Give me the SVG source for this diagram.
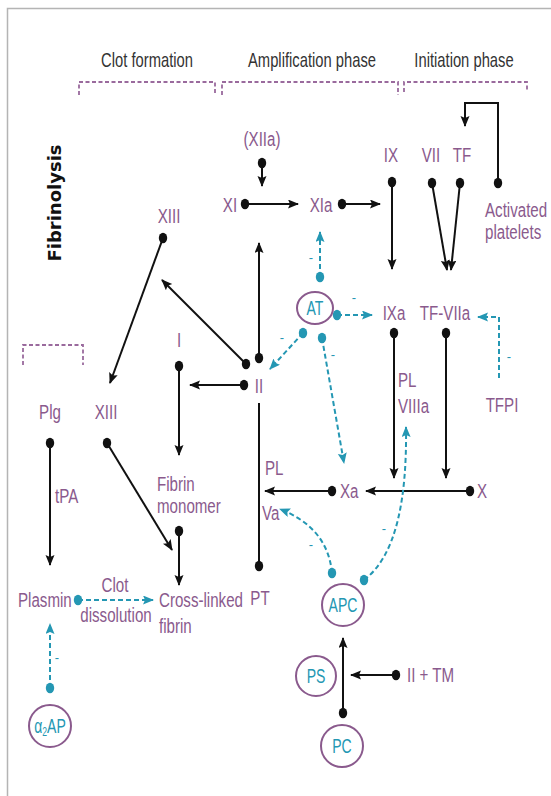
<svg xmlns="http://www.w3.org/2000/svg" width="551" height="796" viewBox="0 0 551 796">
<style>
.bg{fill:#ffffff}
.frame{fill:none;stroke:#b4b4b4;stroke-width:1.5}
.hdr{font-family:"Liberation Sans",Arial,sans-serif;font-size:20.5px;fill:#333333;text-anchor:middle}
.lbl{font-family:"Liberation Sans",Arial,sans-serif;font-size:21px;fill:#8a5a8d}
.mid{text-anchor:middle}
.cy{font-family:"Liberation Sans",Arial,sans-serif;font-size:19.5px;fill:#2497b3;text-anchor:middle}
.minus{font-family:"Liberation Sans",Arial,sans-serif;font-size:13px;fill:#2497b3;text-anchor:middle}
.brk{fill:none;stroke:#9a6a9d;stroke-width:1.8;stroke-dasharray:4 2.5}
.ln{fill:none;stroke:#111111;stroke-width:2;marker-start:url(#dot);marker-end:url(#arr)}
.lnd{fill:none;stroke:#111111;stroke-width:2;marker-start:url(#dot)}
.ca{fill:none;stroke:#2497b3;stroke-width:2;stroke-dasharray:5 3;marker-start:url(#cdot);marker-end:url(#carr)}
.ring{fill:none;stroke:#8a5a8d;stroke-width:2}
.fib{font-family:"DejaVu Sans",Verdana,sans-serif;font-size:18px;font-weight:bold;fill:#111111;text-anchor:middle}
</style>
<defs>
<marker id="arr" markerUnits="userSpaceOnUse" markerWidth="12" markerHeight="10" refX="10" refY="4.5" orient="auto"><path d="M0,0 L11,4.5 L0,9 L2,4.5 z" fill="#111111"/></marker>
<marker id="carr" markerUnits="userSpaceOnUse" markerWidth="12" markerHeight="10" refX="10" refY="4.5" orient="auto"><path d="M0,0 L11,4.5 L0,9 L2,4.5 z" fill="#2497b3"/></marker>
<marker id="dot" markerUnits="userSpaceOnUse" markerWidth="12" markerHeight="14" refX="6" refY="7"><ellipse cx="6" cy="7" rx="4.2" ry="5.2" fill="#111111"/></marker>
<marker id="cdot" markerUnits="userSpaceOnUse" markerWidth="12" markerHeight="14" refX="6" refY="7"><ellipse cx="6" cy="7" rx="4.2" ry="5.2" fill="#2497b3"/></marker>
</defs>
<rect class="bg" x="0" y="0" width="551" height="796"/>
<polyline class="frame" points="7.5,796 7.5,8.5 551,8.5"/>

<g id="headers">
<text class="hdr" transform="translate(147,67) scale(0.72,1)">Clot formation</text>
<text class="hdr" transform="translate(312,67) scale(0.72,1)">Amplification phase</text>
<text class="hdr" transform="translate(464,67) scale(0.72,1)">Initiation phase</text>
<polyline class="brk" points="79,95 79,82 215,82 215,95"/>
<polyline class="brk" points="222,95 222,82 398,82 398,95"/>
<polyline class="brk" points="404,92 404,82 527,82 527,92"/>
<polyline class="brk" points="23,365 23,345 83,345 83,365"/>
<text class="fib" transform="translate(61,203) rotate(-90)">Fibrinolysis</text>
</g>

<g id="connectors">
<line class="ln" x1="262" y1="163" x2="262" y2="186"/>
<line class="ln" x1="245" y1="204" x2="298" y2="204"/>
<line class="ln" x1="342" y1="204" x2="380" y2="204"/>
<line class="ln" x1="392" y1="182" x2="392" y2="269"/>
<line class="ln" x1="432" y1="183" x2="447" y2="270"/>
<line class="ln" x1="460" y1="183" x2="451" y2="270"/>
<polyline class="ln" points="498,183 498,103 465,103 465,126"/>
<line class="ln" x1="394" y1="333" x2="394" y2="478"/>
<line class="ln" x1="446" y1="333" x2="446" y2="478"/>
<line class="ln" x1="470" y1="491" x2="366" y2="491"/>
<line class="ln" x1="332" y1="491" x2="265" y2="491"/>
<line class="ln" x1="259" y1="358" x2="259" y2="243"/>
<line class="ln" x1="246" y1="364" x2="162" y2="280"/>
<line class="ln" x1="244" y1="385" x2="190" y2="385"/>
<line class="lnd" x1="259" y1="566" x2="259" y2="403"/>
<line class="ln" x1="163" y1="238" x2="110" y2="383"/>
<line class="ln" x1="179" y1="366" x2="179" y2="455"/>
<line class="ln" x1="179" y1="531" x2="179" y2="585"/>
<line class="ln" x1="107" y1="443" x2="172" y2="550"/>
<line class="ln" x1="50" y1="443" x2="50" y2="565"/>
<line class="ln" x1="343" y1="713" x2="343" y2="638"/>
<line class="ln" x1="396" y1="675" x2="351" y2="675"/>
<line class="ca" x1="78" y1="600" x2="153" y2="600"/>
<line class="ca" x1="50" y1="688" x2="50" y2="624"/>
<line class="ca" x1="320" y1="277" x2="320" y2="232"/>
<line class="ca" x1="337" y1="315" x2="372" y2="315"/>
<line class="ca" x1="303" y1="333" x2="270" y2="369"/>
<line class="ca" x1="322" y1="338" x2="344" y2="463"/>
<polyline class="ca" points="499,378 499,317 478,317" style="marker-start:none"/>
<path class="ca" d="M332,573 C329,541 310,521 280,509"/>
<path class="ca" d="M364,580 C396,556 407,500 406,427"/>
<text class="minus" x="311" y="262">-</text>
<text class="minus" x="354" y="302">-</text>
<text class="minus" x="282" y="342">-</text>
<text class="minus" x="333" y="359">-</text>
<text class="minus" x="509" y="361">-</text>
<text class="minus" x="311" y="549">-</text>
<text class="minus" x="384" y="533">-</text>
<text class="minus" x="57" y="662">-</text>
</g>

<g id="n-XIIa"><text class="lbl mid" transform="translate(262,146) scale(0.72,1)">(XIIa)</text></g>
<g id="n-XI"><text class="lbl mid" transform="translate(230,212) scale(0.72,1)">XI</text></g>
<g id="n-XIa"><text class="lbl mid" transform="translate(321,212) scale(0.72,1)">XIa</text></g>
<g id="n-IX"><text class="lbl mid" transform="translate(391,162) scale(0.72,1)">IX</text></g>
<g id="n-VII"><text class="lbl mid" transform="translate(431,162) scale(0.72,1)">VII</text></g>
<g id="n-TF"><text class="lbl mid" transform="translate(462,162) scale(0.72,1)">TF</text></g>
<g id="n-platelets"><text class="lbl" transform="translate(485,217) scale(0.72,1)">Activated</text><text class="lbl" transform="translate(485,239) scale(0.72,1)">platelets</text></g>
<g id="n-IXa"><text class="lbl mid" transform="translate(394,320) scale(0.72,1)">IXa</text></g>
<g id="n-TFVIIa"><text class="lbl mid" transform="translate(445,320) scale(0.72,1)">TF-VIIa</text></g>
<g id="n-PLVIIIa"><text class="lbl" transform="translate(398,387) scale(0.72,1)">PL</text><text class="lbl" transform="translate(398,413) scale(0.72,1)">VIIIa</text></g>
<g id="n-TFPI"><text class="lbl mid" transform="translate(502,412) scale(0.72,1)">TFPI</text></g>
<g id="n-X"><text class="lbl mid" transform="translate(482,498) scale(0.72,1)">X</text></g>
<g id="n-Xa"><text class="lbl" transform="translate(340,498) scale(0.72,1)">Xa</text></g>
<g id="n-PLVa"><text class="lbl" transform="translate(265,475) scale(0.72,1)">PL</text><text class="lbl" transform="translate(262,520) scale(0.72,1)">Va</text></g>
<g id="n-II"><text class="lbl mid" transform="translate(259,393) scale(0.72,1)">II</text></g>
<g id="n-PT"><text class="lbl mid" transform="translate(260,605) scale(0.72,1)">PT</text></g>
<g id="n-XIII-top"><text class="lbl mid" transform="translate(169,223) scale(0.72,1)">XIII</text></g>
<g id="n-I"><text class="lbl mid" transform="translate(179,347) scale(0.72,1)">I</text></g>
<g id="n-fibrin"><text class="lbl" transform="translate(157,491) scale(0.72,1)">Fibrin</text><text class="lbl" transform="translate(157,513) scale(0.72,1)">monomer</text></g>
<g id="n-XIII"><text class="lbl mid" transform="translate(106,419) scale(0.72,1)">XIII</text></g>
<g id="n-Plg"><text class="lbl mid" transform="translate(50,419) scale(0.72,1)">Plg</text></g>
<g id="n-tPA"><text class="lbl" transform="translate(55,503) scale(0.72,1)">tPA</text></g>
<g id="n-plasmin"><text class="lbl" transform="translate(18,607) scale(0.72,1)">Plasmin</text></g>
<g id="n-clot"><text class="lbl mid" transform="translate(115,592) scale(0.72,1)">Clot</text><text class="lbl mid" transform="translate(116,622) scale(0.72,1)">dissolution</text></g>
<g id="n-crosslinked"><text class="lbl" transform="translate(159,607) scale(0.72,1)">Cross-linked</text><text class="lbl" transform="translate(159,633) scale(0.72,1)">fibrin</text></g>
<g id="n-AT"><ellipse class="ring" cx="315" cy="308" rx="18" ry="16"/><text class="cy" transform="translate(315,315) scale(0.72,1)">AT</text></g>
<g id="n-APC"><circle class="ring" cx="343" cy="605" r="21"/><text class="cy" transform="translate(343,612) scale(0.72,1)">APC</text></g>
<g id="n-PS"><circle class="ring" cx="316" cy="676" r="20"/><text class="cy" transform="translate(316,683) scale(0.72,1)">PS</text></g>
<g id="n-PC"><circle class="ring" cx="342" cy="746" r="21"/><text class="cy" transform="translate(342,753) scale(0.72,1)">PC</text></g>
<g id="n-a2AP"><circle class="ring" cx="50" cy="726" r="21"/><text class="cy" transform="translate(50,733) scale(0.72,1)">α<tspan font-size="12" dy="3">2</tspan><tspan dy="-3">AP</tspan></text></g>
<g id="n-IITM"><text class="lbl" transform="translate(407,682) scale(0.72,1)">II + TM</text></g>
</svg>
